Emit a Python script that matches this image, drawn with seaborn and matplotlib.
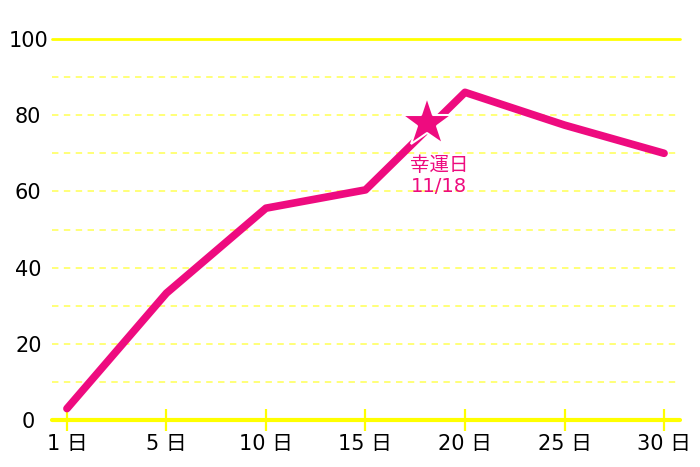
import matplotlib
matplotlib.use("Agg")
import matplotlib.pyplot as plt
import pandas as pd
import seaborn as sns

days = ["1 日", "5 日", "10 日", "15 日", "20 日", "25 日", "30 日"]
values = [3, 33.3, 55.6, 60.4, 86, 77.4, 70]
y_ticks = [0, 20, 40, 60, 80, 100]
# the lucky day sits between the "15 日" and "20 日" categories
lucky_pos = 3.62
lucky_value = 78
lucky_text = "幸運日\n11/18"

PINK = "#ee0b7f"
YELLOW = "#ffff00"
PALE = "#ffff78"
FONTS = ["DejaVu Sans", "Noto Sans CJK JP"]

sns.set_style("white")
plt.rcParams["font.family"] = FONTS

df = pd.DataFrame({"pos": range(len(days)), "value": values})

fig = plt.figure(figsize=(7, 4.67), dpi=100)
ax = fig.add_axes([0.0743, 0.1006, 0.8971, 0.8159])

for y in range(10, 100, 10):
    ax.axhline(y, color=PALE, lw=1.4, ls=(0, (3.3, 2.8)), zorder=1)
ax.axhline(100, color=YELLOW, lw=2, zorder=1, clip_on=False)
ax.axhline(0, color=YELLOW, lw=3, zorder=2, clip_on=False)

sns.lineplot(data=df, x="pos", y="value", ax=ax, color=PINK, lw=5.5,
             solid_joinstyle="round", solid_capstyle="round", zorder=3)
ax.get_lines()[-1].set_clip_on(False)

ax.plot([lucky_pos], [lucky_value], marker="*", ms=38, color=PINK,
        mec="white", mew=1.5, zorder=4, clip_on=False)
ax.text(lucky_pos + 0.12, lucky_value - 8.6, lucky_text, color=PINK, fontsize=14,
        ha="center", va="top", linespacing=1.15, zorder=5)

ax.set_xlim(-0.15, 6.16)
ax.set_ylim(0, 100)
ax.set_xticks(range(len(days)))
ax.set_xticklabels(days)
ax.set_yticks(y_ticks)
ax.set_yticklabels([str(v) for v in y_ticks])
for s in ax.spines.values():
    s.set_visible(False)
ax.tick_params(axis="x", bottom=True, length=16.5, width=1.6, color=YELLOW,
               direction="inout", labelsize=15, pad=2, labelcolor="black")
ax.tick_params(axis="y", left=False, length=0, labelsize=15, labelcolor="black")
for lbl in ax.get_yticklabels():
    lbl.set_horizontalalignment("center")
    lbl.set_x(-0.03)
ax.set_xlabel("")
ax.set_ylabel("")
ax.grid(False)

fig.savefig("out.png", dpi=100)
